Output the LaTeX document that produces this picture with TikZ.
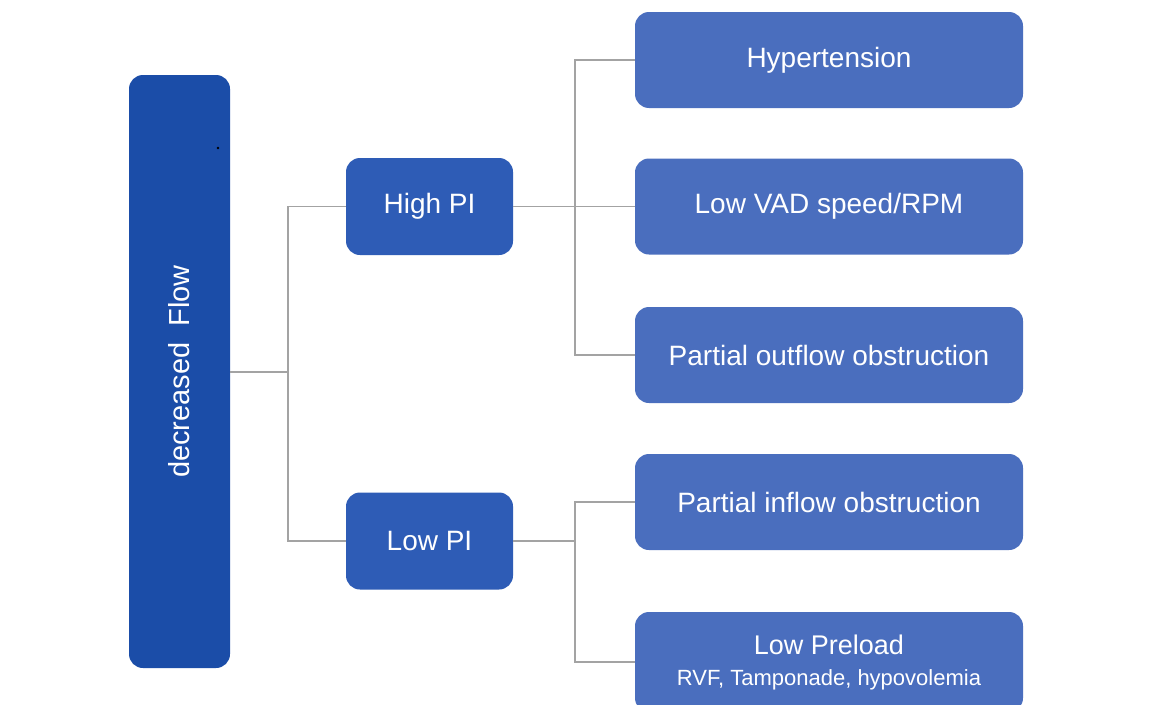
\documentclass[tikz,border=0pt]{standalone}
\usepackage{fontspec}
\setmainfont{Liberation Sans}
\definecolor{mainblue}{HTML}{1B4DA8}
\definecolor{midblue}{HTML}{2E5CB6}
\definecolor{leafblue}{HTML}{4A6EBE}
\definecolor{linegray}{HTML}{A3A3A3}
\begin{document}
\begin{tikzpicture}[x=1pt,y=-1pt,
  box/.style={rounded corners=14pt, text=white, inner sep=0pt, align=center},
  rootbox/.style={box, fill=mainblue, minimum width=101pt, minimum height=593pt},
  midbox/.style={box, fill=midblue, minimum width=167pt, minimum height=97pt, font=\fontsize{28}{32}\selectfont},
  leafbox/.style={box, fill=leafblue, minimum width=388pt, minimum height=96pt, font=\fontsize{28}{32}\selectfont},
  conn/.style={draw=linegray, line width=1.4pt}]
\useasboundingbox (0,0) rectangle (1159,704);
\fill[white] (0,0) rectangle (1159,704);
\node[rootbox] (root) at (179.5,371.5) {};
\node[rotate=90, text=white, font=\fontsize{29}{32}\selectfont] (rootlabel) at (root.center) {decreased\ \ Flow};
\fill[black] (218,148) circle (1.3pt);
\node[midbox] (high) at (429.5,206.5) {High PI};
\node[midbox] (low) at (429.5,541) {Low PI};
\node[leafbox] (hyp) at (829,60) {Hypertension};
\node[leafbox] (vad) at (829,206.5) {Low VAD speed/RPM};
\node[leafbox] (out) at (829,355) {Partial outflow obstruction};
\node[leafbox] (in) at (829,502) {Partial inflow obstruction};
\node[leafbox, minimum height=100pt] (pre) at (829,662) {\fontsize{27}{30}\selectfont Low Preload\\[-1pt]\fontsize{22}{25}\selectfont RVF, Tamponade, hypovolemia};
\coordinate (j1) at (288,372);
\coordinate (j2) at (575,206.5);
\coordinate (j3) at (575,541);
\draw[conn] (root.east |- j1) -- (j1);
\draw[conn] (j1) |- (high.west);
\draw[conn] (j1) |- (low.west);
\draw[conn] (high.east) -- (j2);
\draw[conn] (j2) |- (hyp.west);
\draw[conn] (j2) |- (vad.west);
\draw[conn] (j2) |- (out.west);
\draw[conn] (low.east) -- (j3);
\draw[conn] (j3) |- (in.west);
\draw[conn] (j3) |- (pre.west);
\end{tikzpicture}
\end{document}
